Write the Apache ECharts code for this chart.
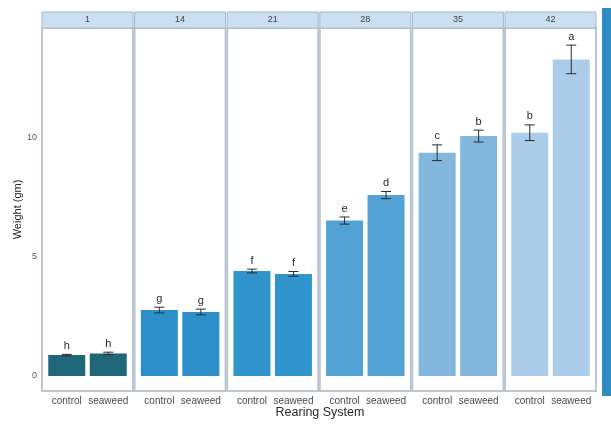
<!DOCTYPE html>
<html>
<head>
<meta charset="utf-8">
<script src="https://cdn.jsdelivr.net/npm/echarts@6/dist/echarts.min.js"></script>
<style>
  html, body { margin: 0; padding: 0; background: #ffffff; }
  #chart { width: 611px; height: 427px; }
</style>
</head>
<body>
<div id="chart"></div>
<script>
// Rearing day panels
const days = ['1', '14', '21', '28', '35', '42'];
// Rearing systems within each panel
const systems = ['control', 'seaweed'];
// Mean weight (gm)
const controlMean = [0.88, 2.77, 4.41, 6.53, 9.38, 10.22];
const seaweedMean = [0.95, 2.69, 4.29, 7.60, 10.08, 13.30];
// Standard error (gm)
const controlErr = [0.03, 0.12, 0.08, 0.15, 0.33, 0.33];
const seaweedErr = [0.05, 0.12, 0.10, 0.15, 0.25, 0.60];
// Significance groups
const controlLetters = ['h', 'g', 'f', 'e', 'c', 'b'];
const seaweedLetters = ['h', 'g', 'f', 'd', 'b', 'a'];
// Y tick values
const yTicks = [0, 5, 10];

const panelColors = ['#21677a', '#2c8fca', '#3195cd', '#52a2d6', '#84b7de', '#abcde9'];

const chart = echarts.init(document.getElementById('chart'));

const panelLeft0 = 42, panelStep = 92.6, panelW = 91;
const panelTop = 28, panelBottom = 391;
const inset = 4;

const grids = [], xAxes = [], yAxes = [], series = [], graphics = [];

days.forEach((d, i) => {
  const pl = panelLeft0 + i * panelStep;
  grids.push({
    left: pl + inset, width: panelW - 2 * inset,
    top: panelTop, height: panelBottom - panelTop,
    containLabel: false
  });
  xAxes.push({
    type: 'category', gridIndex: i, data: systems,
    axisLine: { show: false }, axisTick: { show: false },
    axisLabel: { color: '#4a4a4a', fontSize: 10, margin: 5, interval: 0, fontFamily: 'Liberation Sans' }
  });
  yAxes.push({
    type: 'value', gridIndex: i, min: -0.63, max: 14.62,
    splitLine: { show: false },
    axisLine: { show: false }, axisTick: { show: false },
    axisLabel: {
      show: i === 0, customValues: yTicks, color: '#555', fontSize: 9,
      margin: 9, fontFamily: 'Liberation Sans'
    },
    name: i === 0 ? 'Weight (gm)' : '',
    nameLocation: 'middle', nameGap: 21, nameRotate: 90,
    nameTextStyle: { color: '#222', fontSize: 11, fontFamily: 'Liberation Sans' }
  });
  series.push({
    type: 'bar', xAxisIndex: i, yAxisIndex: i,
    data: [controlMean[i], seaweedMean[i]],
    barWidth: 37,
    itemStyle: { color: panelColors[i] },
    z: 2,
    silent: true
  });
  const errs = [controlErr[i], seaweedErr[i]];
  const letters = [controlLetters[i], seaweedLetters[i]];
  series.push({
    type: 'custom', xAxisIndex: i, yAxisIndex: i,
    data: [[0, controlMean[i]], [1, seaweedMean[i]]],
    z: 5,
    renderItem: function (params, api) {
      const idx = api.value(0), m = api.value(1), e = errs[params.dataIndex];
      const top = api.coord([idx, m + e]);
      const bot = api.coord([idx, m - e]);
      const hw = 5;
      const st = { stroke: '#2a2a2a', lineWidth: 1 };
      return {
        type: 'group',
        children: [
          { type: 'line', shape: { x1: top[0], y1: top[1], x2: bot[0], y2: bot[1] }, style: st },
          { type: 'line', shape: { x1: top[0] - hw, y1: top[1], x2: top[0] + hw, y2: top[1] }, style: st },
          { type: 'line', shape: { x1: bot[0] - hw, y1: bot[1], x2: bot[0] + hw, y2: bot[1] }, style: st },
          { type: 'text', x: top[0], y: top[1] - 3,
            style: { text: letters[params.dataIndex], fill: '#2a2a2a', fontSize: 11,
                     fontFamily: 'Liberation Sans', align: 'center', verticalAlign: 'bottom' } }
        ]
      };
    },
    silent: true
  });
  // panel frame
  graphics.push({
    type: 'rect', shape: { x: pl, y: panelTop, width: panelW, height: panelBottom - panelTop },
    style: { fill: 'none', stroke: '#bcc5d0', lineWidth: 2 }, z: 10
  });
  // strip header
  graphics.push({
    type: 'rect', shape: { x: pl, y: 12, width: panelW, height: 16 },
    style: { fill: '#cadff1', stroke: '#a3b8cc', lineWidth: 1 }, z: 10
  });
  graphics.push({
    type: 'text', x: pl + panelW / 2, y: 20,
    style: { text: d, fill: '#444', fontSize: 9, fontFamily: 'Liberation Sans',
             align: 'center', verticalAlign: 'middle' }, z: 11
  });
});

graphics.push({
  type: 'text', x: 320, y: 413,
  style: { text: 'Rearing System', fill: '#2a2a2a', fontSize: 12.5, fontFamily: 'Liberation Sans',
           align: 'center', verticalAlign: 'middle' }
});
graphics.push({
  type: 'rect', shape: { x: 602, y: 8, width: 9, height: 388 },
  style: { fill: '#2f8cc2' }
});

chart.setOption({
  backgroundColor: '#ffffff',
  animation: false,
  grid: grids,
  xAxis: xAxes,
  yAxis: yAxes,
  series: series,
  graphic: graphics
});
</script>
</body>
</html>
